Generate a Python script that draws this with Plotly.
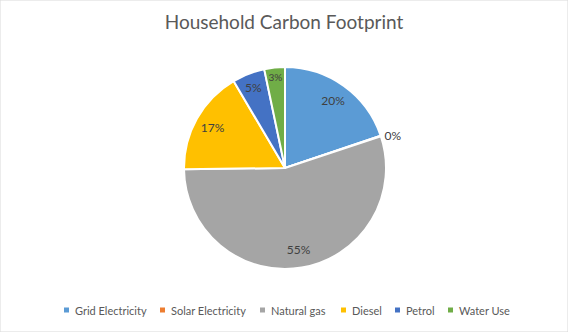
import plotly.graph_objects as go

categories = ["Grid Electricity", "Solar Electricity", "Natural gas", "Diesel", "Petrol", "Water Use"]
values = [19.8, 0.1, 54.9, 16.7, 5.2, 3.3]
colors = ["#5B9BD5", "#ED7D31", "#A5A5A5", "#FFC000", "#4472C4", "#70AD47"]

W, H = 568, 332
cx, cy, r = 285, 168, 101
dom_x = [(cx - r) / W, (cx + r) / W]
dom_y = [1 - (cy + r) / H, 1 - (cy - r) / H]

# legend layout (pixel left edges of legend squares)
legend_sq_x = [64, 160, 260, 341, 395, 448]
legend_y = 310
font_family = "Lato, Open Sans, sans-serif"

fig = go.Figure()
fig.add_trace(go.Pie(
    labels=categories, values=values, sort=False, direction="clockwise", rotation=0,
    marker=dict(colors=colors, line=dict(color="white", width=2)),
    textinfo="none", domain=dict(x=dom_x, y=dom_y), showlegend=False, hoverinfo="label+percent",
))
fig.add_trace(go.Pie(
    labels=categories, values=values, sort=False, direction="clockwise", rotation=0,
    hole=0.64,
    marker=dict(colors=["rgba(0,0,0,0)"] * 6, line=dict(width=0)),
    texttemplate="%{percent:.0%}",
    textposition=["inside", "outside", "inside", "inside", "inside", "inside"],
    insidetextorientation="horizontal",
    textfont=dict(family=font_family, size=12, color="#404040"),
    domain=dict(x=dom_x, y=dom_y), showlegend=False, hoverinfo="skip",
))

shapes = [dict(type="rect", xref="paper", yref="paper", x0=0, y0=0, x1=1, y1=1,
               line=dict(color="#D9D9D9", width=1))]
annotations = []
for name, col, sx in zip(categories, colors, legend_sq_x):
    shapes.append(dict(type="rect", xref="paper", yref="paper",
                       x0=sx / W, x1=(sx + 5) / W,
                       y0=1 - (legend_y + 2.5) / H, y1=1 - (legend_y - 2.5) / H,
                       fillcolor=col, line=dict(width=0)))
    annotations.append(dict(text=name, xref="paper", yref="paper", x=(sx + 9) / W,
                            y=1 - legend_y / H, xanchor="left", yanchor="middle", showarrow=False,
                            font=dict(family=font_family, size=11, color="#595959")))

fig.update_layout(
    width=W, height=H,
    margin=dict(l=0, r=0, t=0, b=0),
    paper_bgcolor="white", plot_bgcolor="white",
    showlegend=False,
    title=dict(text="Household Carbon Footprint", x=0.5, xanchor="center", y=1 - 22 / H, yanchor="middle",
               font=dict(family=font_family, size=19, color="#595959")),
    shapes=shapes,
    annotations=annotations,
)
fig.write_html("out.html")
